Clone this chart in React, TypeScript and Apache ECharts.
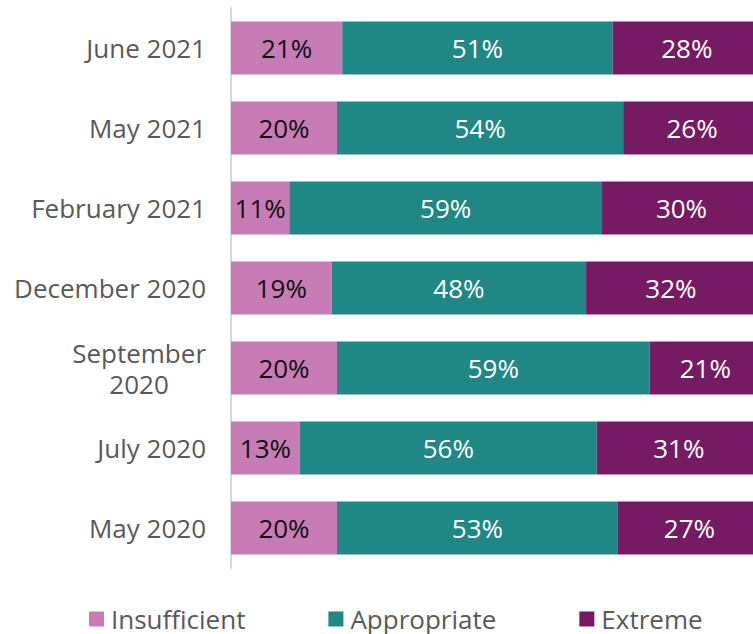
import React, { useEffect, useRef } from "react";
import * as echarts from "echarts";

const categories = [
  "June 2021",
  "May 2021",
  "February 2021",
  "December 2020",
  "September\n2020",
  "July 2020",
  "May 2020",
];
const insufficient = [21, 20, 11, 19, 20, 13, 20];
const appropriate = [51, 54, 59, 48, 59, 56, 53];
const extreme = [28, 26, 30, 32, 21, 31, 27];

const seriesNames = ["Insufficient", "Appropriate", "Extreme"];
const colors = ["#C77CB6", "#1F8784", "#751A63"];
const labelColors = ["#111111", "#FFFFFF", "#FFFFFF"];

const FONT = "'Open Sans', 'Liberation Sans', sans-serif";

export default function App() {
  const ref = useRef<HTMLDivElement>(null);
  useEffect(() => {
    if (!ref.current) return;
    const chart = echarts.init(ref.current, null, { renderer: "svg" });
    const dataSets = [insufficient, appropriate, extreme];
    chart.setOption({
      animation: false,
      textStyle: { fontFamily: FONT },
      grid: {
        left: 231,
        width: 530,
        top: 8,
        bottom: 66,
        containLabel: false,
        outerBoundsMode: "none",
      },
      xAxis: { type: "value", min: 0, max: 100, show: false },
      yAxis: {
        type: "category",
        inverse: true,
        data: categories,
        axisLine: { show: true, lineStyle: { color: "#D9D9D9", width: 2 } },
        axisTick: { show: false },
        splitLine: { show: false },
        axisLabel: {
          margin: 25,
          color: "#595959",
          fontSize: 26,
          fontFamily: FONT,
          lineHeight: 31,
          formatter: (v: string) =>
            v
              .split("\n")
              .map((s) => "{c|" + s + "}")
              .join("\n"),
          rich: {
            c: {
              align: "center",
              fontSize: 26,
              lineHeight: 31,
              color: "#595959",
              fontFamily: FONT,
            },
          },
        },
      },
      legend: {
        left: 89,
        top: 606,
        padding: 0,
        itemWidth: 15,
        itemHeight: 15,
        itemGap: 83,
        icon: "rect",
        textStyle: {
          fontSize: 26,
          lineHeight: 26,
          color: "#595959",
          fontFamily: FONT,
          padding: [0, 0, 0, 2],
        },
        data: seriesNames,
      },
      series: seriesNames.map((name, i) => ({
        name,
        type: "bar",
        stack: "total",
        barWidth: 53,
        data: dataSets[i],
        itemStyle: { color: colors[i] },
        label: {
          show: true,
          position: "inside",
          formatter: "{c}%",
          color: labelColors[i],
          fontSize: 26,
          fontFamily: FONT,
        },
      })),
    });
    return () => chart.dispose();
  }, []);
  return (
    <div
      ref={ref}
      style={{ position: "absolute", left: 0, top: 0, width: 753, height: 634 }}
    />
  );
}
